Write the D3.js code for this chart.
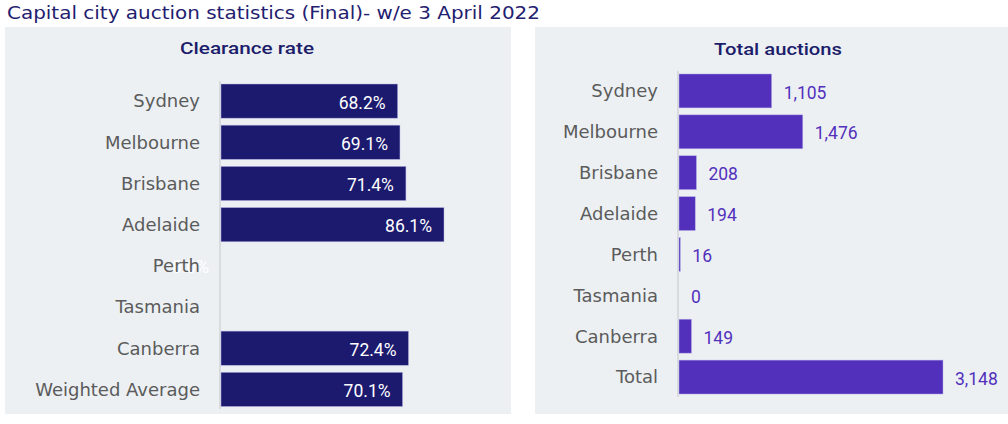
<!DOCTYPE html>
<html><head><meta charset="utf-8">
<script src="https://cdn.jsdelivr.net/npm/d3@7"></script>
<style>
html,body{margin:0;padding:0;background:#fff;}
svg{display:block;font-family:"DejaVu Sans","Noto Sans",sans-serif;}
</style></head>
<body>
<svg id="c" width="1008" height="424"></svg>
<script>
const clearanceCities = ["Sydney","Melbourne","Brisbane","Adelaide","Perth","Tasmania","Canberra","Weighted Average"];
const clearanceRates = [68.2, 69.1, 71.4, 86.1, 0, null, 72.4, 70.1];
const auctionCities = ["Sydney","Melbourne","Brisbane","Adelaide","Perth","Tasmania","Canberra","Total"];
const auctionTotals = [1105, 1476, 208, 194, 16, 0, 149, 3148];
const titleText = "Capital city auction statistics (Final)- w/e 3 April 2022";
const leftTitle = "Clearance rate";
const rightTitle = "Total auctions";

const svg = d3.select("#c");
const bg = "#ecf0f3";
const navy = "#1c1a6f";
const purple = "#5230bc";
const labelGray = "#5b5b5b";
const valueFont = 'Roboto,"Open Sans",sans-serif';

svg.append("text").attr("x",7).attr("y",18.5).attr("fill","#1f2070")
  .attr("font-size",18.5).attr("textLength",533).attr("lengthAdjust","spacingAndGlyphs")
  .text(titleText);

// panels
svg.append("rect").attr("x",5).attr("y",27).attr("width",506).attr("height",387).attr("fill",bg);
svg.append("rect").attr("x",535).attr("y",27).attr("width",473).attr("height",387).attr("fill",bg);

svg.append("text").attr("x",247).attr("y",54).attr("text-anchor","middle").attr("fill","#1c1d6b")
  .attr("font-family",valueFont).attr("font-size",17).attr("font-weight",500).attr("textLength",134).attr("lengthAdjust","spacingAndGlyphs").text(leftTitle);
svg.append("text").attr("x",778).attr("y",55).attr("text-anchor","middle").attr("fill","#1c1d6b")
  .attr("font-family",valueFont).attr("font-size",17).attr("font-weight",500).attr("textLength",128).attr("lengthAdjust","spacingAndGlyphs").text(rightTitle);

function panel(opts){
  const {cats, vals, x0, x1, dmax, y0, y1, color, fmt, inside, axisTop, axisBot} = opts;
  const x = d3.scaleLinear().domain([0,dmax]).range([x0,x1]);
  const y = d3.scaleBand().domain(cats).range([y0,y1]).paddingInner(0.17).paddingOuter(0.085);
  const data = cats.map((c,i)=>({c, v: vals[i]}));
  const g = svg.append("g");
  // axis line
  g.append("line").attr("x1",x0-1).attr("x2",x0-1).attr("y1",axisTop).attr("y2",axisBot)
    .attr("stroke","#d8dcdf").attr("stroke-width",2);
  g.selectAll("rect.bar").data(data.filter(d=>d.v!=null && d.v>0)).join("rect")
    .attr("class","bar")
    .attr("x",x(0)).attr("y",d=>y(d.c))
    .attr("width",d=>Math.max(0,x(d.v)-x(0))).attr("height",y.bandwidth())
    .attr("fill",color).attr("stroke","#b9b4e6").attr("stroke-width",0.6).attr("stroke-opacity",0.8);
  // value labels
  g.selectAll("text.val").data(data.filter(d=>d.v!=null)).join("text")
    .attr("class","val")
    .attr("x",d=> inside ? x(d.v)-12 : x(d.v)+12)
    .attr("y",d=>y(d.c)+y.bandwidth()/2+1.5)
    .attr("dy","0.35em")
    .attr("text-anchor", inside ? "end" : "start")
    .attr("fill", inside ? "#ffffff" : color)
    .attr("font-family",valueFont)
    .attr("font-size",17.5)
    .text(d=>fmt(d.v));
  // category axis
  const ax = d3.axisLeft(y).tickSize(0).tickPadding(21);
  const ag = g.append("g").attr("transform",`translate(${x0},0)`).call(ax);
  ag.select(".domain").remove();
  ag.selectAll("text").attr("font-size",18).attr("fill",labelGray)
    .attr("font-family",'"DejaVu Sans","Noto Sans",sans-serif').attr("dy","0.35em");
}

panel({cats:clearanceCities, vals:clearanceRates, x0:221, x1:480, dmax:100, y0:80.5, y1:410,
  color:navy, fmt:v=>d3.format(".1f")(v)+"%", inside:true, axisTop:81, axisBot:409});
panel({cats:auctionCities, vals:auctionTotals, x0:679, x1:943, dmax:3148, y0:70.5, y1:397.5,
  color:purple, fmt:d3.format(","), inside:false, axisTop:71, axisBot:397});
</script>
</body></html>
